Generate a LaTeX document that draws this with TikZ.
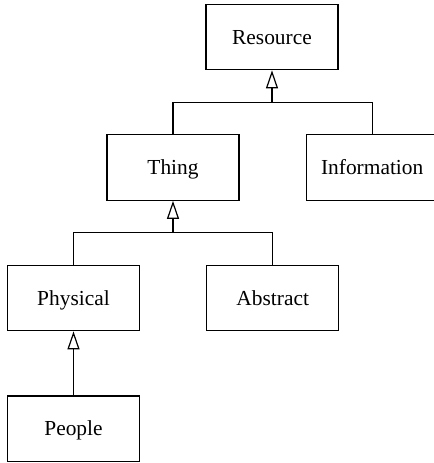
\documentclass[tikz,border=0pt]{standalone}
\usepackage{fontspec}
\setmainfont{Liberation Serif}
\usepackage{tikz}
\usetikzlibrary{arrows.meta,positioning,calc}

\begin{document}
\begin{tikzpicture}[
  x=0.5pt, y=-0.5pt,
  box/.style={draw, line width=0.6pt, minimum width=66pt, minimum height=32.75pt, inner sep=0pt, text height=9.5pt, text depth=2.5pt, font=\fontsize{10.7}{13}\selectfont},
  line/.style={line width=0.6pt},
  inh/.style={-{Triangle[open, length=9pt, width=6pt]}, line width=0.6pt}
]
\useasboundingbox (0,0) rectangle (434,463);
\node[box] (res) at (272,37) {Resource};
\node[box] (thing) at (173,167.5) {Thing};
\node[box, right=33pt of thing] (info) {Information};
\node[box] (phys) at (73.5,298) {Physical};
\node[box, right=33pt of phys] (abs) {Abstract};
\node[box, below=32pt of phys] (ppl) {People};
% junctions
\coordinate (j1) at ($(res.south)!0.5!(res.south |- thing.north)$);
\coordinate (j2) at ($(thing.south)!0.5!(thing.south |- phys.north)$);
\draw[line] (thing.north) |- (j1) -| (info.north);
\draw[inh] (j1) -- (res.south);
\draw[line] (phys.north) |- (j2) -| (abs.north);
\draw[inh] (j2) -- (thing.south);
\draw[inh] (ppl.north) -- (phys.south);
\end{tikzpicture}
\end{document}
